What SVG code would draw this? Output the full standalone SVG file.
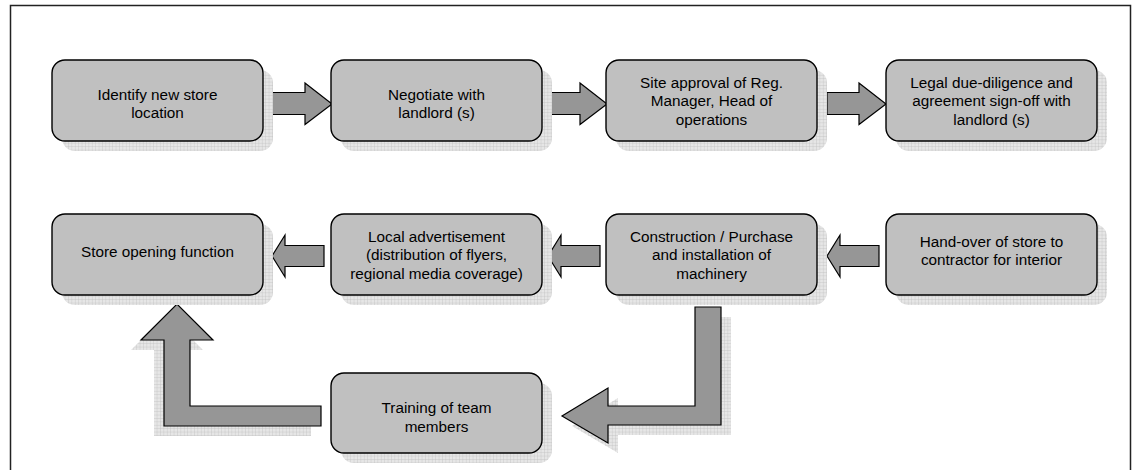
<svg xmlns="http://www.w3.org/2000/svg" width="1137" height="470" viewBox="0 0 1137 470">
<style>
.box{fill:#c0c0c0;stroke:#000;stroke-width:1.4}
.sh{fill:url(#grid)}
.arr{fill:#969696;stroke:#000;stroke-width:1.2;stroke-linejoin:miter}
.t{font-family:"Liberation Sans",Arial,sans-serif;font-size:15.3px;fill:#000;text-anchor:middle}
</style>
<defs>
<pattern id="grid" width="3.4" height="3.4" patternUnits="userSpaceOnUse">
<rect width="3.4" height="3.4" fill="#e6e6e6"/>
<path d="M0 0H3.4M0 0V3.4" stroke="#bdbdbd" stroke-width="0.7" fill="none"/>
</pattern>
</defs>
<rect width="1137" height="470" fill="#fff"/>
<path d="M10.5 470V5.5H1130.5V470" fill="none" stroke="#222" stroke-width="1.5"/>

<g id="connectors">
<polygon class="arr" points="272,92.5 305,92.5 305,83 332,104 305,124.5 305,114.5 272,114.5"/>
<polygon class="arr" points="548,92.5 580,92.5 580,83 607,104 580,124.5 580,114.5 548,114.5"/>
<polygon class="arr" points="827,92.5 859,92.5 859,83 886,104 859,124.5 859,114.5 827,114.5"/>
<polygon class="arr" points="324,245.5 285,245.5 285,235 272,256 285,277 285,266.5 324,266.5"/>
<polygon class="arr" points="600,245.5 561,245.5 561,235 548,256 561,277 561,266.5 600,266.5"/>
<polygon class="arr" points="879,245.5 840,245.5 840,235 827,256 840,277 840,266.5 879,266.5"/>
<polygon class="sh" transform="translate(10,10)" points="695,307 721,307 721,425 608,425 608,443 562,416 608,388 608,406 695,406"/>
<polygon class="arr" points="695,307 721,307 721,425 608,425 608,443 562,416 608,388 608,406 695,406"/>
<polygon class="sh" transform="translate(-10,10)" points="321,406 190,406 190,340 213,340 177,304 141,340 164,340 164,426 321,426"/>
<polygon class="arr" points="321,406 190,406 190,340 213,340 177,304 141,340 164,340 164,426 321,426"/>
</g>

<g id="n1"><rect class="sh" x="62" y="70" width="211" height="81" rx="13"/><rect class="box" x="52" y="60" width="211" height="81" rx="13"/>
<text class="t" x="157.5" y="99.5">Identify new store</text><text class="t" x="157.5" y="117.8">location</text></g>
<g id="n2"><rect class="sh" x="341" y="70" width="211" height="81" rx="13"/><rect class="box" x="331" y="60" width="211" height="81" rx="13"/>
<text class="t" x="436.5" y="99.5">Negotiate with</text><text class="t" x="436.5" y="117.8">landlord (s)</text></g>
<g id="n3"><rect class="sh" x="616" y="70" width="211" height="81" rx="13"/><rect class="box" x="606" y="60" width="211" height="81" rx="13"/>
<text class="t" x="711.5" y="87.7">Site approval of Reg.</text><text class="t" x="711.5" y="106.1">Manager, Head of</text><text class="t" x="711.5" y="124.5">operations</text></g>
<g id="n4"><rect class="sh" x="896" y="70" width="211" height="81" rx="13"/><rect class="box" x="886" y="60" width="211" height="81" rx="13"/>
<text class="t" x="991.5" y="87.7">Legal due-diligence and</text><text class="t" x="991.5" y="106.1">agreement sign-off with</text><text class="t" x="991.5" y="124.5">landlord (s)</text></g>

<g id="n5"><rect class="sh" x="62" y="224" width="211" height="81" rx="13"/><rect class="box" x="52" y="214" width="211" height="81" rx="13"/>
<text class="t" x="157.5" y="257.3">Store opening function</text></g>
<g id="n6"><rect class="sh" x="341" y="224" width="211" height="81" rx="13"/><rect class="box" x="331" y="214" width="211" height="81" rx="13"/>
<text class="t" x="436.5" y="241.7">Local advertisement</text><text class="t" x="436.5" y="260.3">(distribution of flyers,</text><text class="t" x="436.5" y="278.9">regional media coverage)</text></g>
<g id="n7"><rect class="sh" x="616" y="224" width="211" height="81" rx="13"/><rect class="box" x="606" y="214" width="211" height="81" rx="13"/>
<text class="t" x="711.5" y="241.7">Construction / Purchase</text><text class="t" x="711.5" y="260.3">and installation of</text><text class="t" x="711.5" y="278.9">machinery</text></g>
<g id="n8"><rect class="sh" x="896" y="224" width="211" height="81" rx="13"/><rect class="box" x="886" y="214" width="211" height="81" rx="13"/>
<text class="t" x="991.5" y="246.7">Hand-over of store to</text><text class="t" x="991.5" y="265">contractor for interior</text></g>

<g id="n9"><rect class="sh" x="341" y="383" width="211" height="80" rx="13"/><rect class="box" x="331" y="373" width="211" height="80" rx="13"/>
<text class="t" x="436.5" y="413.3">Training of team</text><text class="t" x="436.5" y="431.7">members</text></g>
</svg>
